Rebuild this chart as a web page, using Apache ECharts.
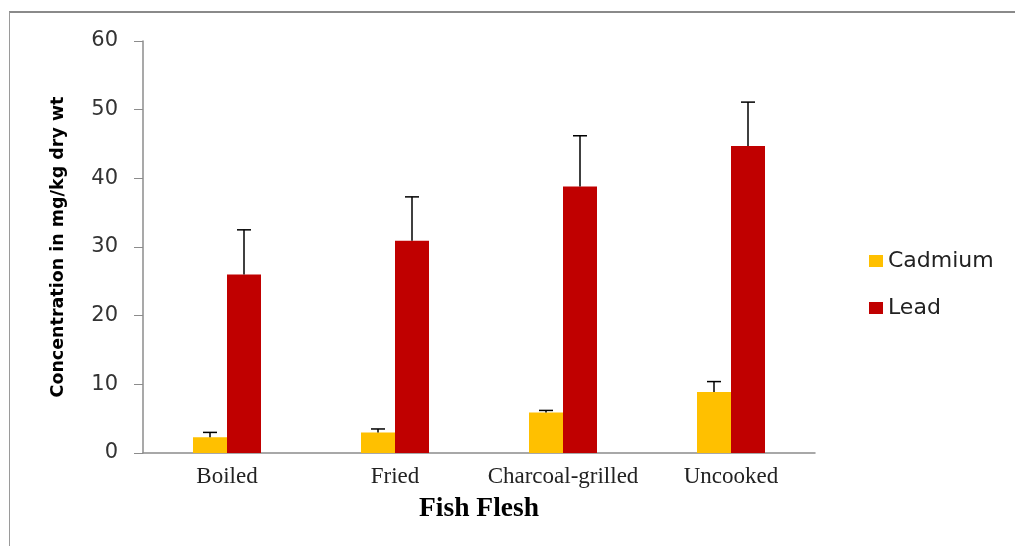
<!DOCTYPE html>
<html>
<head>
<meta charset="utf-8">
<script src="https://cdn.jsdelivr.net/npm/echarts@6/dist/echarts.min.js"></script>
<style>
  html, body { margin: 0; padding: 0; background: #fff; }
  #frame { position: absolute; left: 9px; top: 11px; width: 1006px; height: 535px;
           border-top: 2px solid #8a8a8a; border-left: 1px solid #9a9a9a; box-sizing: border-box; }
  #chart { position: absolute; left: 0; top: 0; width: 1015px; height: 546px; }
</style>
</head>
<body>
<div id="frame"></div>
<div id="chart"></div>
<script>
const categories = ['Boiled', 'Fried', 'Charcoal-grilled', 'Uncooked']
const cadmium = [2.3, 3.0, 5.9, 8.9]
const cadmiumErr = [0.7, 0.5, 0.3, 1.5]
const lead = [26.0, 30.9, 38.8, 44.7]
const leadErr = [6.5, 6.4, 7.4, 6.4]

const BAR_W = 34

// upward-only error bars with a small cap, drawn off the category scale
function errorSeries(values, errs, offset) {
  return {
    type: 'custom',
    silent: true,
    z: 5,
    data: values.map((v, i) => [i, v, v + errs[i]]),
    renderItem(params, api) {
      const base = api.coord([api.value(0), api.value(1)])
      const top = api.coord([api.value(0), api.value(2)])
      const x = base[0] + offset
      const style = { stroke: '#000', lineWidth: 1.5 }
      return {
        type: 'group',
        children: [
          { type: 'line', shape: { x1: x, y1: base[1], x2: x, y2: top[1] }, style },
          { type: 'line', shape: { x1: x - 7, y1: top[1], x2: x + 7, y2: top[1] }, style },
        ],
      }
    },
  }
}

const chart = echarts.init(document.getElementById('chart'))
chart.setOption({
  animation: false,
  grid: { left: 143, right: 200, top: 41, bottom: 93 },
  legend: {
    orient: 'vertical',
    left: 864,
    top: 245,
    itemWidth: 14,
    itemHeight: 12,
    itemGap: 25,
    icon: 'rect',
    textStyle: { fontFamily: 'DejaVu Sans', fontSize: 22, color: '#222' },
    data: ['Cadmium', 'Lead'],
  },
  xAxis: {
    type: 'category',
    data: categories,
    axisLine: { lineStyle: { color: '#8c8c8c', width: 1.5 } },
    axisTick: { show: false },
    axisLabel: { interval: 0, fontFamily: 'Liberation Serif', fontSize: 23, color: '#222', margin: 12 },
    name: 'Fish Flesh',
    nameLocation: 'middle',
    nameGap: 42,
    nameTextStyle: { fontFamily: 'Liberation Serif', fontWeight: 'bold', fontSize: 27.5, color: '#000' },
  },
  yAxis: {
    type: 'value',
    min: 0,
    max: 60,
    interval: 10,
    name: 'Concentration in mg/kg dry wt',
    nameLocation: 'middle',
    nameGap: 76,
    nameTextStyle: { fontFamily: 'DejaVu Sans', fontWeight: 'bold', fontSize: 17.5, color: '#000' },
    axisLine: { show: true, lineStyle: { color: '#8c8c8c', width: 1.5 } },
    axisTick: { show: true, inside: false, length: 9, lineStyle: { color: '#8c8c8c' } },
    splitLine: { show: false },
    axisLabel: { fontFamily: 'DejaVu Sans', fontSize: 21, color: '#333', margin: 25 },
  },
  series: [
    {
      name: 'Cadmium',
      type: 'bar',
      barWidth: BAR_W,
      barGap: '0%',
      itemStyle: { color: '#FFC000' },
      data: cadmium,
    },
    {
      name: 'Lead',
      type: 'bar',
      barWidth: BAR_W,
      barGap: '0%',
      itemStyle: { color: '#C00000' },
      data: lead,
    },
    errorSeries(cadmium, cadmiumErr, -BAR_W / 2),
    errorSeries(lead, leadErr, BAR_W / 2),
  ],
})
</script>
</body>
</html>
